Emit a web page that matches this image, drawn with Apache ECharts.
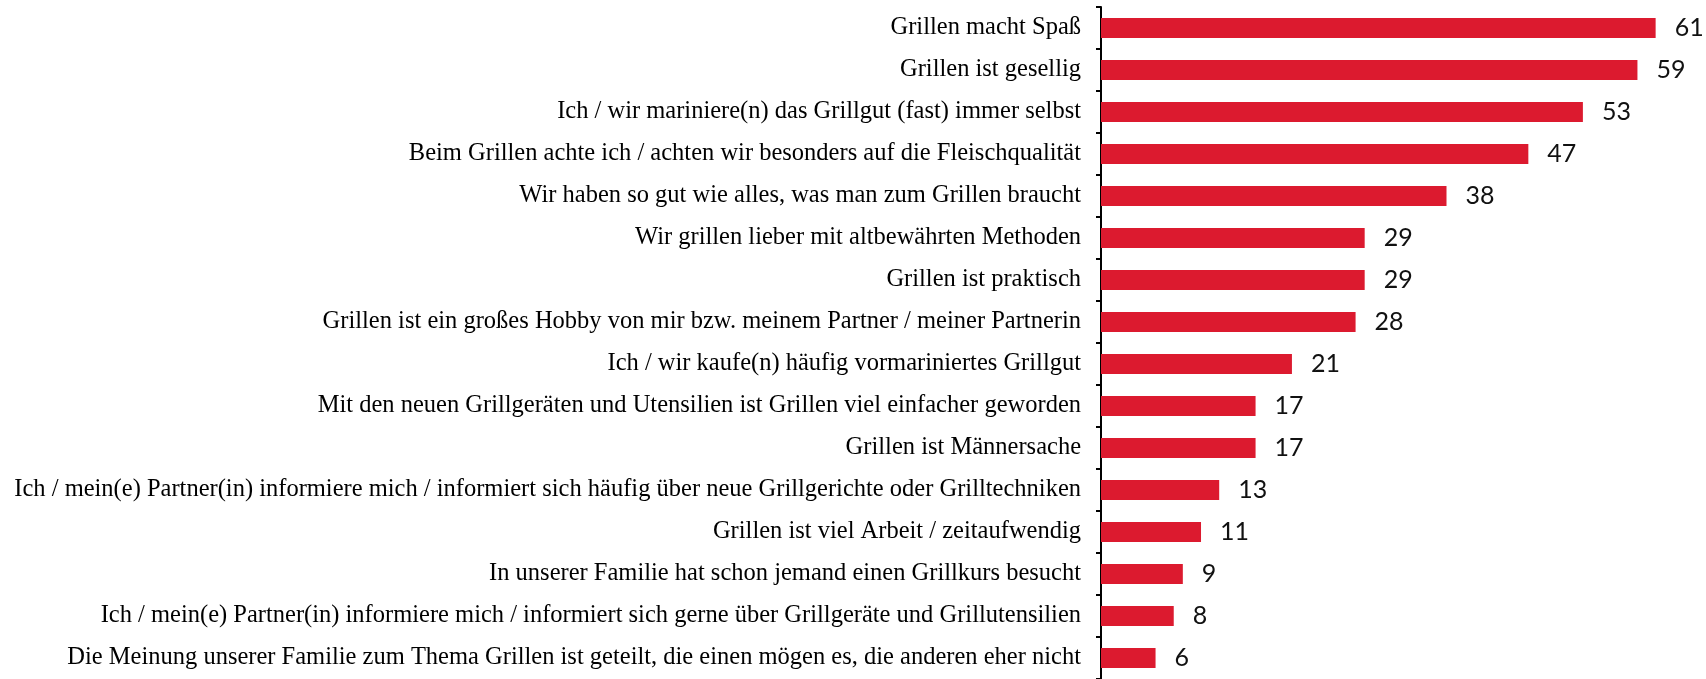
<!DOCTYPE html>
<html>
<head>
<meta charset="utf-8">
<script src="https://cdn.jsdelivr.net/npm/echarts@6/dist/echarts.min.js"></script>
<style>
html,body{margin:0;padding:0;background:#fff;}
#chart{width:1706px;height:679px;}
</style>
</head>
<body>
<div id="chart"></div>
<script>
const categories = [
  "Grillen macht Spaß",
  "Grillen ist gesellig",
  "Ich / wir mariniere(n) das Grillgut (fast) immer selbst",
  "Beim Grillen achte ich / achten wir besonders auf die Fleischqualität",
  "Wir haben so gut wie alles, was man zum Grillen braucht",
  "Wir grillen lieber mit altbewährten Methoden",
  "Grillen ist praktisch",
  "Grillen ist ein großes Hobby von mir bzw. meinem Partner / meiner Partnerin",
  "Ich / wir kaufe(n) häufig vormariniertes Grillgut",
  "Mit den neuen Grillgeräten und Utensilien ist Grillen viel einfacher geworden",
  "Grillen ist Männersache",
  "Ich / mein(e) Partner(in) informiere mich / informiert sich häufig über neue Grillgerichte oder Grilltechniken",
  "Grillen ist viel Arbeit / zeitaufwendig",
  "In unserer Familie hat schon jemand einen Grillkurs besucht",
  "Ich / mein(e) Partner(in) informiere mich / informiert sich gerne über Grillgeräte und Grillutensilien",
  "Die Meinung unserer Familie zum Thema Grillen ist geteilt, die einen mögen es, die anderen eher nicht"
];
const values = [61, 59, 53, 47, 38, 29, 29, 28, 21, 17, 17, 13, 11, 9, 8, 6];

const chart = echarts.init(document.getElementById('chart'), null, {renderer: 'canvas'});
chart.setOption({
  animation: false,
  grid: {left: 1101, top: 7, width: 591, height: 674, containLabel: false},
  xAxis: {
    type: 'value', min: 0, max: 65, show: false
  },
  yAxis: {
    type: 'category', data: categories, inverse: true,
    axisLine: {show: true, lineStyle: {color: '#000', width: 2}},
    axisTick: {show: true, inside: false, length: 5, lineStyle: {color: '#000', width: 2}},
    axisLabel: {
      margin: 20, color: '#000',
      fontFamily: 'Liberation Serif', fontSize: 24.5
    }
  },
  series: [{
    type: 'bar', data: values, barWidth: 20,
    itemStyle: {color: '#DC1A2F'},
    label: {
      show: true, position: 'right', distance: 19,
      color: '#111', fontFamily: 'Lato', fontSize: 25
    }
  }]
});
</script>
</body>
</html>
